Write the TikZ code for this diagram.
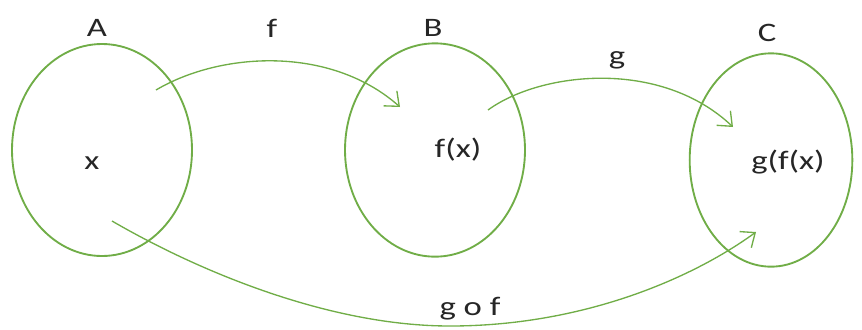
\documentclass[tikz,border=0pt]{standalone}
\usepackage{fontspec}
\setmainfont{Carlito}[FakeStretch=1.3]
\usetikzlibrary{arrows.meta,shapes.geometric}
\definecolor{setgreen}{RGB}{112,173,71}
\tikzset{
  setring/.style={draw=setgreen, line width=1.4pt, ellipse, inner sep=0pt},
  maparrow/.style={draw=setgreen, line width=1pt, -{Straight Barb[length=9pt,width=15pt]}},
  lbl/.style={font=\fontsize{20}{24}\selectfont, text=black!85}
}
\begin{document}
\begin{tikzpicture}[x=0.75pt,y=0.75pt,yscale=-1,xscale=1]
\useasboundingbox (0,0) rectangle (862,329);

%Shape: Ellipse [id:setA]
\node[setring, minimum width=135pt, minimum height=159pt] (setA) at (102,150) {};
%Shape: Ellipse [id:setB]
\node[setring, minimum width=135pt, minimum height=160pt] (setB) at (435,150) {};
%Shape: Ellipse [id:setC]
\node[setring, minimum width=122pt, minimum height=160pt] (setC) at (771,160) {};

% end points of the maps
\coordinate (fstart) at (156,90);
\coordinate (fend) at (400,107);
\coordinate (gstart) at (488,110);
\coordinate (gend) at (733,127);
\coordinate (hstart) at (112,221);
\coordinate (hlow) at (450,326);
\coordinate (hend) at (756,232);

%Curve Lines [id:mapf]
\draw[maparrow] (fstart) .. controls (220,52) and (330,45) .. (fend);
%Curve Lines [id:mapg]
\draw[maparrow] (gstart) .. controls (540,72) and (660,58) .. (gend);
%Curve Lines [id:mapgof]
\draw[maparrow] (hstart) .. controls (200,272) and (330,326) .. (hlow)
  .. controls (580,326) and (690,280) .. (hend);

% Text Node
\node[lbl] (labA) at (97,28) {A};
% Text Node
\node[lbl] (labB) at (433,28) {B};
% Text Node
\node[lbl] (labC) at (767,33) {C};
% Text Node
\node[lbl] (labf) at (272,28) {f};
% Text Node
\node[lbl] (labg) at (617,60) {g};
% Text Node
\node[lbl] (labgof) at (470,309) {g o f};
% Text Node
\node[lbl] (elx) at (92,163) {x};
% Text Node
\node[lbl] (elfx) at (458,150) {f(x)};
% Text Node
\node[lbl] (elgfx) at (788,162) {g(f(x)};

\end{tikzpicture}
\end{document}
